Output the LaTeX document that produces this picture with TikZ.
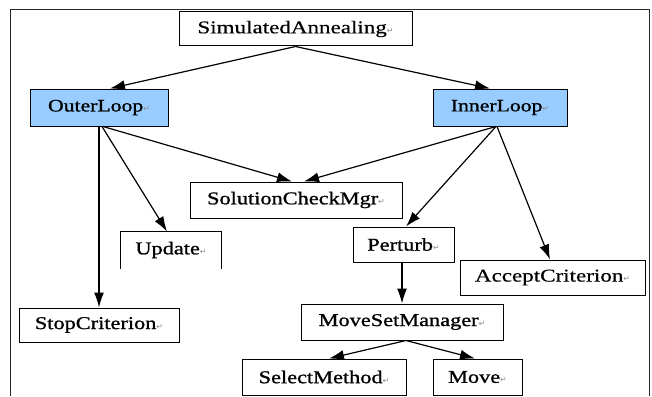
\documentclass[tikz,border=0pt]{standalone}
\usepackage{fontspec}
\setmainfont{Liberation Serif}[FakeStretch=1.28, FakeBold=0.4]
\newfontfamily\heavyfont{Liberation Serif}[FakeStretch=1.24, FakeBold=1.1]
\newfontfamily\markfont{DejaVu Sans}
\usetikzlibrary{arrows.meta}
\definecolor{loopblue}{RGB}{153,204,255}
\definecolor{markgray}{RGB}{140,140,140}
\newcommand{\pmark}{{\markfont\fontsize{8}{8}\selectfont\color{markgray}↵}}
\tikzset{
  x=1pt, y=-1pt,
  box/.style={draw=black, line width=1pt, inner sep=0pt, align=center,
    font=\fontsize{18}{20}\selectfont},
  boldbox/.style={box, font=\heavyfont\fontsize{18}{20}\selectfont},
  loopbox/.style={box, fill=loopblue, font=\heavyfont\fontsize{17.5}{20}\selectfont},
  link/.style={line width=1.2pt, -{Latex[length=15pt,width=10pt]}},
  frame/.style={line width=1pt, draw=black!85}
}
\begin{document}
\begin{tikzpicture}
\useasboundingbox (0,0) rectangle (652,396);
% outer frame, open at the bottom
\draw[frame] (10,396) -- (10,10) -- (649,10) -- (649,396);

% class boxes
\node[box, minimum width=233pt, minimum height=34pt] (sa) at (295.5,29) {SimulatedAnnealing\pmark};
\node[loopbox, minimum width=138pt, minimum height=37pt] (outer) at (99,107.5) {OuterLoop\pmark};
\node[loopbox, minimum width=134pt, minimum height=37pt] (inner) at (500,107.5) {InnerLoop\pmark};
\node[boldbox, minimum width=212pt, minimum height=36pt] (scm) at (296,200) {SolutionCheckMgr\pmark};
\node[boldbox, draw=none, minimum width=100pt, minimum height=36pt] (upd) at (171,250) {Update\pmark};
\draw[line width=1pt] (upd.south west) -- (upd.north west) -- (upd.north east) -- (upd.south east);
\node[boldbox, minimum width=101pt, minimum height=35pt] (pert) at (403.5,244.5) {Perturb\pmark};
\node[box, minimum width=185pt, minimum height=35pt] (acc) at (552.5,277.5) {AcceptCriterion\pmark};
\node[boldbox, minimum width=160pt, minimum height=34pt] (stop) at (99,325) {StopCriterion\pmark};
\node[boldbox, minimum width=202pt, minimum height=36pt] (msm) at (402,322) {MoveSetManager\pmark};
\node[boldbox, minimum width=164pt, minimum height=36pt] (sel) at (324,377) {SelectMethod\pmark};
\node[boldbox, minimum width=89pt, minimum height=36pt] (mv) at (477.5,377) {Move\pmark};

% associations
\draw[link] (sa.south) -- ([xshift=11pt]outer.north);
\draw[link] (sa.south) -- ([xshift=-10pt]inner.north);
\draw[link] (outer.south) -- (stop.north);
\draw[link] ([xshift=3pt]outer.south) -- ([xshift=-4pt]upd.north);
\draw[link] ([xshift=4pt]outer.south) -- ([xshift=-4pt]scm.north);
\draw[link] ([xshift=-4pt]inner.south) -- ([xshift=8pt]scm.north);
\draw[link] ([xshift=-4pt]inner.south) -- ([xshift=2.5pt]pert.north);
\draw[link] ([xshift=-3pt]inner.south) -- ([xshift=-2.5pt]acc.north);
\draw[link] ([xshift=-1.5pt]pert.south) -- ([xshift=-1.5pt]pert.south |- msm.north);
\draw[link] ([xshift=4pt]msm.south) -- ([xshift=5pt]sel.north);
\draw[link] ([xshift=4pt]msm.south) -- ([xshift=-2.5pt]mv.north);
\end{tikzpicture}
\end{document}
